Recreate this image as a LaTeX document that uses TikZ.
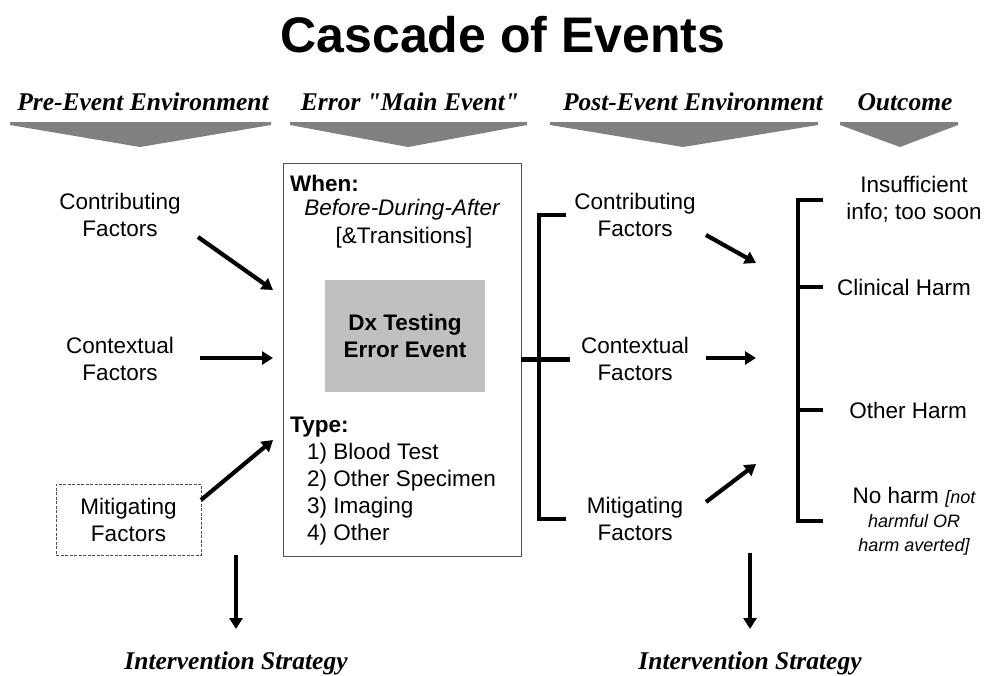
\documentclass[tikz,border=0pt]{standalone}
\usepackage{fontspec}
\setmainfont{Liberation Sans}
\newfontfamily\hdfont{Liberation Serif}
\usetikzlibrary{arrows.meta}
\definecolor{chevgray}{HTML}{808080}
\definecolor{dxgray}{HTML}{C0C0C0}
\definecolor{boxgray}{HTML}{505050}
\begin{document}
\begin{tikzpicture}[x=1pt,y=-1pt,
  txt/.style={align=center,font=\fontsize{22.5}{27}\selectfont,inner sep=0pt},
  txtb/.style={align=center,font=\bfseries\fontsize{22.5}{27}\selectfont,inner sep=0pt},
  txti/.style={align=center,font=\itshape\fontsize{22.5}{27}\selectfont,inner sep=0pt},
  hdr/.style={font=\hdfont\bfseries\itshape\fontsize{25.5}{28}\selectfont,inner sep=0pt,anchor=base},
  arr/.style={line width=4.2pt,-{Triangle[length=11pt,width=13pt]}},
  brk/.style={line width=4.5pt},
  chev/.style={fill=chevgray}]
\useasboundingbox (0,0) rectangle (992,675);

% title
\node[font=\bfseries\fontsize{50}{54}\selectfont,inner sep=0pt,anchor=base] (title) at (503,52) {Cascade of Events};

% headers
\node[hdr] (h1) at (143,110) {Pre-Event Environment};
\node[hdr] (h2) at (410,110) {Error "Main Event"};
\node[hdr] (h3) at (693,110) {Post-Event Environment};
\node[hdr] (h4) at (905,110) {Outcome};

% chevrons
\fill[chev] (10,122) -- (271,122) -- (271,125) -- (140,147) -- (10,125) -- cycle;
\fill[chev] (290,122) -- (527,122) -- (527,125) -- (408,147) -- (290,125) -- cycle;
\fill[chev] (550,122) -- (818,122) -- (818,125) -- (683,147) -- (550,125) -- cycle;
\fill[chev] (840,122) -- (958,122) -- (958,125) -- (900,147) -- (840,125) -- cycle;

% left column
\node[txt] (lcontrib) at (120,215) {Contributing\\Factors};
\node[txt] (lcontext) at (120,359) {Contextual\\Factors};
\node[txt,draw=boxgray,line width=0.8pt,dash pattern=on 3pt off 1.5pt,
      minimum width=145,minimum height=71] (lmitig) at (128.5,519.5) {Mitigating\\Factors};

% main box
\node[draw=boxgray,line width=0.9pt,minimum width=238,minimum height=393,inner sep=0pt] (main) at (402,359.5) {};
\node[txtb,anchor=west] (when) at (290,183) {When:};
\node[txti] (bda) at (402,210) {Before-During-After};
\node[txt] (trans) at (404,238) {[\&Transitions]};
\node[txtb,fill=dxgray,minimum width=160,minimum height=112] (dx) at (405,336) {Dx Testing\\Error Event};
\node[txtb,anchor=west] (type) at (290,427) {Type:};
\node[txt,anchor=west] (t1) at (307,454) {1) Blood Test};
\node[txt,anchor=west] (t2) at (307,481) {2) Other Specimen};
\node[txt,anchor=west] (t3) at (307,508) {3) Imaging};
\node[txt,anchor=west] (t4) at (307,535) {4) Other};

% left arrows
\coordinate (la1s) at (198,237); \coordinate (la1e) at (273,290);
\coordinate (la2s) at (200,358); \coordinate (la2e) at (273,358);
\coordinate (la3s) at (201,500); \coordinate (la3e) at (273,440);
\draw[arr] (la1s) -- (la1e);
\draw[arr] (la2s) -- (la2e);
\draw[arr] (la3s) -- (la3e);

% post-event bracket
\coordinate (pbt) at (539,215); \coordinate (pbb) at (539,519);
\coordinate (pbtr) at (566,215); \coordinate (pbbr) at (566,519);
\coordinate (pbm) at (570,359.5);
\draw[brk] (pbtr) -- (pbt) -- (pbb) -- (pbbr);
\draw[brk] (main.east) -- (pbm);

% post-event column
\node[txt] (pcontrib) at (635,215) {Contributing\\Factors};
\node[txt] (pcontext) at (635,359) {Contextual\\Factors};
\node[txt] (pmitig) at (635,519) {Mitigating\\Factors};

\coordinate (pa1s) at (706,235); \coordinate (pa1e) at (756,263);
\coordinate (pa2s) at (706,358); \coordinate (pa2e) at (756,358);
\coordinate (pa3s) at (706,502); \coordinate (pa3e) at (756,464);
\draw[arr] (pa1s) -- (pa1e);
\draw[arr] (pa2s) -- (pa2e);
\draw[arr] (pa3s) -- (pa3e);

% outcome bracket
\coordinate (ob1) at (798,200); \coordinate (ob1r) at (823,200);
\coordinate (ob2) at (798,287); \coordinate (ob2r) at (823,287);
\coordinate (ob3) at (798,410); \coordinate (ob3r) at (823,410);
\coordinate (ob4) at (798,521); \coordinate (ob4r) at (823,521);
\draw[brk] (ob1r) -- (ob1) -- (ob4) -- (ob4r);
\draw[brk] (ob2) -- (ob2r);
\draw[brk] (ob3) -- (ob3r);

% outcomes
\node[txt] (o1) at (914,199) {Insufficient\\info; too soon};
\node[txt] (o2) at (904,287) {Clinical Harm};
\node[txt] (o3) at (908,410) {Other Harm};
\node[txt,anchor=north] (o4) at (914,487) {No harm {\itshape\fontsize{18}{24}\selectfont[not}\\[-3pt]
  {\itshape\fontsize{18}{24}\selectfont harmful OR}\\[-3pt]
  {\itshape\fontsize{18}{24}\selectfont harm averted]}};

% bottom arrows
\coordinate (ba1s) at (236,555); \coordinate (ba1e) at (236,629);
\coordinate (ba2s) at (750,553); \coordinate (ba2e) at (750,629);
\draw[arr] (ba1s) -- (ba1e);
\draw[arr] (ba2s) -- (ba2e);
\node[hdr] (is1) at (236,669) {Intervention Strategy};
\node[hdr] (is2) at (750,669) {Intervention Strategy};
\end{tikzpicture}
\end{document}
